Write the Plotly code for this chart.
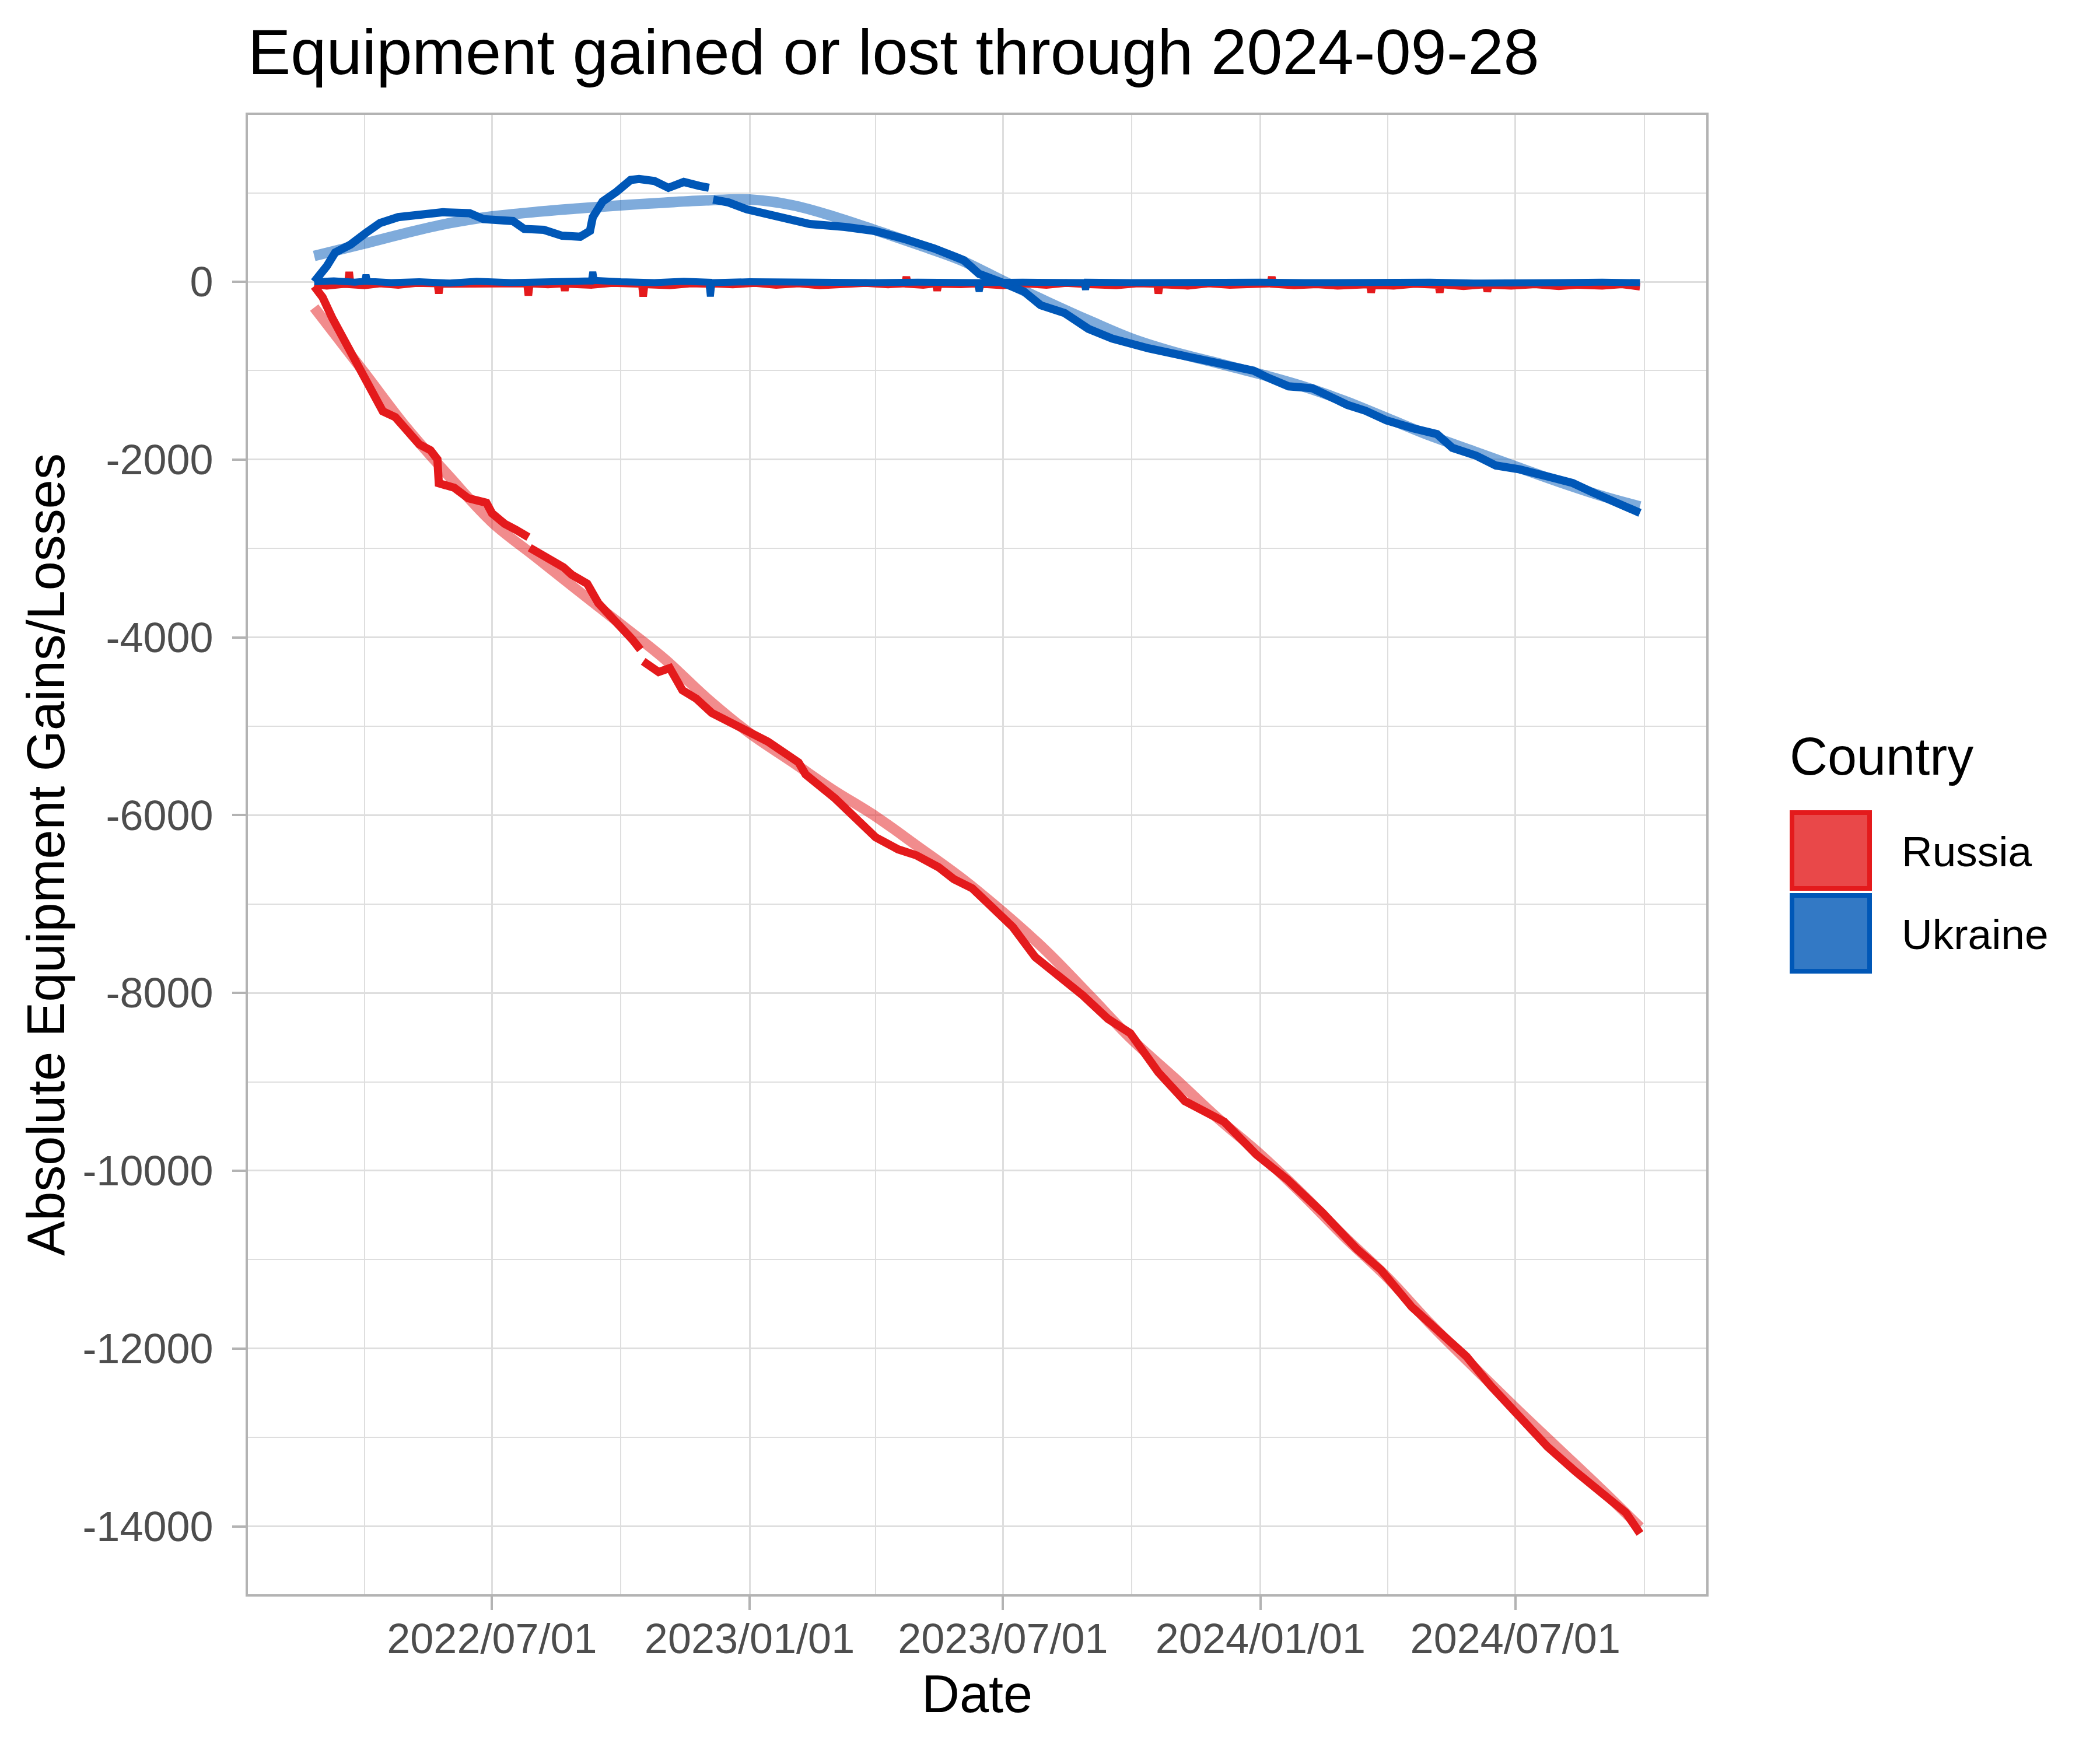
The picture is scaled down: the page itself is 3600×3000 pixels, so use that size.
import plotly.graph_objects as go
import pandas as pd

TITLE = "Equipment gained or lost through 2024-09-28"
X_TITLE = "Date"
Y_TITLE = "Absolute Equipment Gains/Losses"
LEGEND_TITLE = "Country"
countries = ["Russia", "Ukraine"]

RED = "#E41A1C"
BLUE = "#0057B7"

# ---- Russia cumulative (None = break in series) ----
ru_cum_dates = ["2022-02-24", "2022-03-02", "2022-03-09", "2022-03-16", "2022-03-22", "2022-03-30",
                "2022-04-08", "2022-04-14", "2022-04-23", "2022-05-01", "2022-05-10", "2022-05-18",
                "2022-05-23", "2022-05-24", "2022-06-04", "2022-06-14", "2022-06-27", "2022-07-01",
                "2022-07-10", "2022-07-18", "2022-07-27", "2022-07-27 12:00", "2022-07-28", "2022-08-06",
                "2022-08-21", "2022-08-27", "2022-09-07", "2022-09-15", "2022-09-28", "2022-10-09",
                "2022-10-15", "2022-10-16", "2022-10-17", "2022-10-28", "2022-11-05", "2022-11-14",
                "2022-11-24", "2022-12-05", "2022-12-24", "2023-01-14", "2023-02-05", "2023-02-10",
                "2023-03-03", "2023-03-19", "2023-04-01", "2023-04-17", "2023-04-30", "2023-05-16",
                "2023-05-27", "2023-06-09", "2023-06-22", "2023-07-08", "2023-07-24", "2023-08-14",
                "2023-08-27", "2023-09-14", "2023-09-30", "2023-10-20", "2023-11-08", "2023-12-06",
                "2023-12-29", "2024-01-20", "2024-02-14", "2024-03-10", "2024-03-27", "2024-04-18",
                "2024-05-07", "2024-05-27", "2024-06-13", "2024-07-02", "2024-07-24", "2024-08-13",
                "2024-09-01", "2024-09-18", "2024-09-28"]
ru_cum_values = [-50, -175, -411, -614, -816, -1052,
                 -1288, -1457, -1524, -1659, -1828, -1895,
                 -1997, -2266, -2317, -2435, -2486, -2604,
                 -2722, -2789, -2873, None, -2992, -3076,
                 -3211, -3295, -3396, -3616, -3818, -4020,
                 -4138, None, -4270, -4390, -4345, -4595,
                 -4690, -4850, -5003, -5172, -5407, -5542,
                 -5811, -6047, -6249, -6384, -6451, -6586,
                 -6721, -6822, -7024, -7259, -7596, -7865,
                 -8027, -8292, -8454, -8894, -9218, -9449,
                 -9819, -10097, -10468, -10884, -11116, -11532,
                 -11810, -12088, -12412, -12736, -13106, -13384,
                 -13616, -13847, -14080]

# ---- Ukraine cumulative ----
ua_cum_dates = ["2022-02-24", "2022-03-05", "2022-03-11", "2022-03-22", "2022-04-02", "2022-04-12",
                "2022-04-25", "2022-05-11", "2022-05-27", "2022-06-15", "2022-06-25", "2022-07-16",
                "2022-07-24", "2022-08-07", "2022-08-20", "2022-09-02", "2022-09-09", "2022-09-11",
                "2022-09-18", "2022-09-28", "2022-10-08", "2022-10-14", "2022-10-25", "2022-11-04",
                "2022-11-15", "2022-11-26", "2022-12-03", "2022-12-04", "2022-12-06", "2022-12-17",
                "2022-12-30", "2023-01-12", "2023-01-25", "2023-02-13", "2023-03-10", "2023-03-31",
                "2023-04-21", "2023-05-13", "2023-06-03", "2023-06-14", "2023-06-29", "2023-07-16",
                "2023-07-28", "2023-08-14", "2023-08-31", "2023-09-17", "2023-10-13", "2023-11-07",
                "2023-12-03", "2023-12-27", "2024-01-06", "2024-01-21", "2024-02-07", "2024-02-20",
                "2024-03-03", "2024-03-16", "2024-03-31", "2024-04-19", "2024-05-06", "2024-05-17",
                "2024-06-03", "2024-06-17", "2024-07-04", "2024-07-26", "2024-08-11", "2024-08-26",
                "2024-09-10", "2024-09-28"]
ua_cum_values = [0, 176, 330, 419, 551, 661,
                 727, 749, 782, 771, 705, 683,
                 595, 584, 518, 507, 573, 727,
                 903, 1013, 1145, 1156, 1134, 1057,
                 1123, 1079, 1057, None, 925, 892,
                 815, 771, 705, 650, 617, 573,
                 485, 374, 242, 88, 0, -110,
                 -264, -352, -529, -639, -749, -837,
                 -925, -1000, -1077, -1176, -1198, -1297,
                 -1385, -1451, -1560, -1648, -1714, -1868,
                 -1956, -2066, -2110, -2198, -2264, -2374,
                 -2484, -2600]

# ---- Daily changes (near zero) ----
ru_day_dates = ["2022-02-24", "2022-03-05", "2022-03-15", "2022-03-20", "2022-03-21", "2022-03-22",
                "2022-04-01", "2022-04-12", "2022-04-25", "2022-05-08", "2022-05-23", "2022-05-24",
                "2022-05-25", "2022-06-10", "2022-06-25", "2022-07-10", "2022-07-26", "2022-07-27",
                "2022-07-28", "2022-08-10", "2022-08-21", "2022-08-22", "2022-08-23", "2022-09-10",
                "2022-09-25", "2022-10-16", "2022-10-17", "2022-10-18", "2022-11-05", "2022-11-20",
                "2022-12-03", "2022-12-04", "2022-12-05", "2022-12-20", "2023-01-05", "2023-01-20",
                "2023-02-05", "2023-02-20", "2023-03-10", "2023-03-25", "2023-04-10", "2023-04-22",
                "2023-04-23", "2023-04-24", "2023-05-05", "2023-05-14", "2023-05-15", "2023-05-16",
                "2023-06-01", "2023-06-13", "2023-06-14", "2023-06-15", "2023-07-01", "2023-07-15",
                "2023-08-01", "2023-08-15", "2023-09-01", "2023-09-20", "2023-10-05", "2023-10-19",
                "2023-10-20", "2023-10-21", "2023-11-10", "2023-11-25", "2023-12-10", "2023-12-25",
                "2024-01-08", "2024-01-09", "2024-01-10", "2024-01-25", "2024-02-10", "2024-02-25",
                "2024-03-10", "2024-03-19", "2024-03-20", "2024-03-21", "2024-04-05", "2024-04-20",
                "2024-05-07", "2024-05-08", "2024-05-09", "2024-05-25", "2024-06-10", "2024-06-11",
                "2024-06-12", "2024-06-28", "2024-07-15", "2024-08-01", "2024-08-15", "2024-09-01",
                "2024-09-15", "2024-09-28"]
ru_day_values = [-30, -45, -30, -25, 110, -30,
                 -40, -20, -35, -15, -20, -132,
                 -25, -20, -35, -15, -20, -154,
                 -20, -30, -20, -99, -25, -35,
                 -15, -25, -165, -30, -40, -20,
                 -25, -90, -20, -30, -15, -35,
                 -20, -40, -25, -15, -30, -20,
                 55, -25, -35, -20, -99, -25,
                 -30, -20, -88, -25, -40, -20,
                 -35, -15, -30, -40, -20, -25,
                 -132, -30, -45, -20, -35, -25,
                 -20, 55, -25, -40, -30, -45,
                 -25, -30, -121, -35, -45, -25,
                 -35, -121, -30, -50, -30, -110,
                 -35, -45, -30, -50, -35, -45,
                 -30, -55]

ua_day_dates = ["2022-02-24", "2022-03-10", "2022-03-25", "2022-04-01", "2022-04-02", "2022-04-03",
                "2022-04-20", "2022-05-10", "2022-06-01", "2022-06-20", "2022-07-15", "2022-08-10",
                "2022-09-01", "2022-09-10", "2022-09-11", "2022-09-12", "2022-10-01", "2022-10-25",
                "2022-11-15", "2022-12-03", "2022-12-04", "2022-12-05", "2023-01-01", "2023-02-01",
                "2023-03-01", "2023-04-01", "2023-05-01", "2023-06-13", "2023-06-14", "2023-06-15",
                "2023-07-15", "2023-08-28", "2023-08-29", "2023-08-30", "2023-10-01", "2023-11-01",
                "2023-12-01", "2024-01-01", "2024-02-01", "2024-03-01", "2024-04-01", "2024-05-01",
                "2024-06-01", "2024-07-01", "2024-08-01", "2024-09-01", "2024-09-28"]
ua_day_values = [0, 10, -5, 5, 77, 5,
                 -10, 0, -15, 5, -10, 0,
                 -5, 10, 110, 15, 0, -10,
                 5, -5, -165, -10, 0, -10,
                 0, -10, -5, -10, -110, -10,
                 -5, -10, -88, -5, -10, -5,
                 -10, -5, -10, -5, -10, -5,
                 -15, -5, -10, -5, -10]

# ---- Smoothed trends ----
ru_smooth_dates = ["2022-02-24", "2022-04-01", "2022-05-01", "2022-06-01", "2022-07-01", "2022-08-01",
                   "2022-09-01", "2022-10-01", "2022-11-01", "2022-12-01", "2023-01-01", "2023-02-01",
                   "2023-03-01", "2023-04-01", "2023-05-01", "2023-06-01", "2023-07-01", "2023-08-01",
                   "2023-09-01", "2023-10-01", "2023-11-01", "2023-12-01", "2024-01-01", "2024-02-01",
                   "2024-03-01", "2024-04-01", "2024-05-01", "2024-06-01", "2024-07-01", "2024-08-01",
                   "2024-09-01", "2024-09-28"]
ru_smooth_values = [-290, -1025, -1642, -2199, -2705, -3093,
                    -3481, -3852, -4239, -4678, -5077, -5407,
                    -5710, -6013, -6350, -6704, -7091, -7529,
                    -8030, -8523, -8963, -9403, -9819, -10282,
                    -10745, -11208, -11718, -12204, -12667, -13130,
                    -13593, -14009]

ua_smooth_dates = ru_smooth_dates
ua_smooth_values = [290, 430, 550, 660, 735, 785,
                    825, 860, 890, 915, 925, 860,
                    740, 580, 418, 242, 11, -220,
                    -440, -639, -793, -914, -1040, -1180,
                    -1340, -1538, -1730, -1905, -2077, -2250,
                    -2410, -2527]

x_tick_vals = ["2022-07-01", "2023-01-01", "2023-07-01", "2024-01-01", "2024-07-01"]
x_tick_text = ["2022/07/01", "2023/01/01", "2023/07/01", "2024/01/01", "2024/07/01"]
x_minor_vals = ["2022-04-01", "2022-10-01", "2023-04-01", "2023-10-01", "2024-04-01", "2024-10-01"]
y_tick_vals = [0, -2000, -4000, -6000, -8000, -10000, -12000, -14000]
y_tick_text = ["0", "-2000", "-4000", "-6000", "-8000", "-10000", "-12000", "-14000"]
y_minor_vals = [1000, -1000, -3000, -5000, -7000, -9000, -11000, -13000]

# ---------------- figure ----------------
W, H = 3600, 3000
PL, PR, PT, PB = 425, 2925, 197, 2733


def px_x(p):
    return (p - PL) / (PR - PL)


def px_y(p):
    return (PB - p) / (PB - PT)


def rgba(hexc, a):
    h = hexc.lstrip("#")
    r, g, b = int(h[0:2], 16), int(h[2:4], 16), int(h[4:6], 16)
    return f"rgba({r},{g},{b},{a})"


fig = go.Figure()

fig.add_trace(go.Scatter(x=ru_smooth_dates, y=ru_smooth_values, mode="lines",
                         line=dict(color=rgba(RED, 0.5), width=18, shape="spline"),
                         showlegend=False, hoverinfo="skip"))
fig.add_trace(go.Scatter(x=ua_smooth_dates, y=ua_smooth_values, mode="lines",
                         line=dict(color=rgba(BLUE, 0.5), width=18, shape="spline"),
                         showlegend=False, hoverinfo="skip"))

fig.add_trace(go.Scatter(x=ru_cum_dates, y=ru_cum_values, mode="lines", name="Russia",
                         line=dict(color=RED, width=14), connectgaps=False, showlegend=False))
fig.add_trace(go.Scatter(x=ru_day_dates, y=ru_day_values, mode="lines", name="Russia",
                         line=dict(color=RED, width=13), showlegend=False))
fig.add_trace(go.Scatter(x=ua_cum_dates, y=ua_cum_values, mode="lines", name="Ukraine",
                         line=dict(color=BLUE, width=14), connectgaps=False, showlegend=False))
fig.add_trace(go.Scatter(x=ua_day_dates, y=ua_day_values, mode="lines", name="Ukraine",
                         line=dict(color=BLUE, width=12), showlegend=False))

# axis ranges: 5% expansion of data range
all_dates = pd.to_datetime(ru_cum_dates + ua_cum_dates, format="ISO8601")
dmin, dmax = all_dates.min(), all_dates.max()
pad = (dmax - dmin) * 0.05
x_range = [(dmin - pad).strftime("%Y-%m-%d %H:%M"), (dmax + pad).strftime("%Y-%m-%d %H:%M")]
y_range = [-14764, 1877]

GRID = "#DEDEDE"
AXC = "#B3B3B3"
FONT = "Liberation Sans, Arial, Helvetica, sans-serif"

fig.update_layout(
    width=W, height=H,
    margin=dict(l=PL, r=W - PR, t=PT, b=H - PB, autoexpand=False),
    paper_bgcolor="white", plot_bgcolor="white",
    font=dict(family=FONT, color="black"),
    title=dict(text=TITLE, x=PL / W, xanchor="left", xref="container",
               y=1 - 88 / H, yanchor="middle", yref="container",
               font=dict(size=110, color="black", family=FONT)),
    showlegend=False,
)

fig.update_xaxes(
    type="date", range=x_range,
    tickmode="array", tickvals=x_tick_vals, ticktext=x_tick_text,
    tickfont=dict(size=72, color="#4D4D4D", family=FONT),
    ticks="outside", ticklen=23, tickwidth=4, tickcolor=AXC,
    ticklabelstandoff=-12,
    showgrid=True, gridcolor=GRID, gridwidth=3.2,
    minor=dict(tickmode="array", tickvals=x_minor_vals, showgrid=True,
               gridcolor=GRID, gridwidth=1.7, ticks=""),
    showline=True, mirror=True, linecolor=AXC, linewidth=4,
    zeroline=False,
    title=dict(text=X_TITLE, font=dict(size=90, color="black", family=FONT), standoff=25),
)
fig.update_yaxes(
    range=y_range,
    tickmode="array", tickvals=y_tick_vals, ticktext=y_tick_text,
    tickfont=dict(size=72, color="#4D4D4D", family=FONT),
    ticks="outside", ticklen=23, tickwidth=4, tickcolor=AXC,
    ticklabelstandoff=18,
    showgrid=True, gridcolor=GRID, gridwidth=3.2,
    minor=dict(tickmode="array", tickvals=y_minor_vals, showgrid=True,
               gridcolor=GRID, gridwidth=1.7, ticks=""),
    showline=True, mirror=True, linecolor=AXC, linewidth=4,
    zeroline=False,
    title=dict(text=Y_TITLE, font=dict(size=90, color="black", family=FONT), standoff=2),
)

# ---- manual legend (filled keys as in original) ----
key_colors = [RED, BLUE]
key_tops = [1389, 1531]
label_centers = [1459, 1601]
for name, col, top, lc in zip(countries, key_colors, key_tops, label_centers):
    fig.add_shape(type="rect", xref="paper", yref="paper",
                  x0=px_x(3072), x1=px_x(3205), y0=px_y(top + 4), y1=px_y(top + 134),
                  fillcolor=rgba(col, 0.8), line=dict(color=col, width=8), layer="above")
    fig.add_annotation(text=name, xref="paper", yref="paper", x=px_x(3258), y=px_y(lc),
                       xanchor="left", yanchor="middle", showarrow=False,
                       font=dict(size=73, color="black", family=FONT))
fig.add_annotation(text=LEGEND_TITLE, xref="paper", yref="paper", x=px_x(3066), y=px_y(1297),
                   xanchor="left", yanchor="middle", showarrow=False,
                   font=dict(size=90, color="black", family=FONT))

fig.write_html("out.html")
